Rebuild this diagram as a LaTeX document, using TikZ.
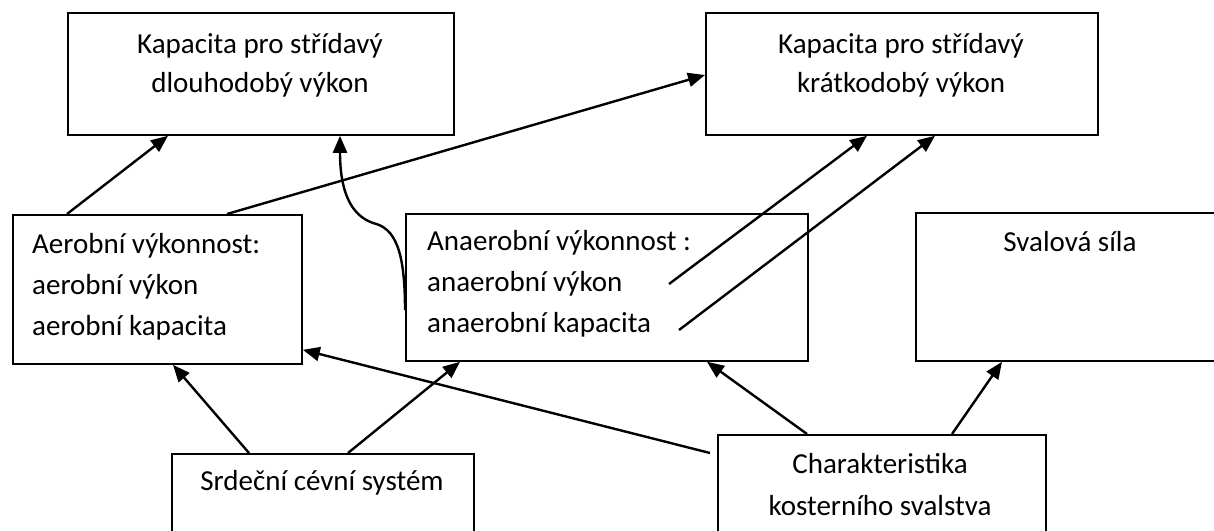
\documentclass[tikz,border=0pt]{standalone}
\usepackage{fontspec}
\setmainfont{Carlito}
\usetikzlibrary{calc,arrows.meta}
\begin{document}
\begin{tikzpicture}[x=1pt,y=-1pt,
  box/.style={draw=black,line width=1.8pt,rectangle,inner sep=0pt,anchor=north west},
  txt/.style={inner sep=0pt,font=\fontsize{29}{41}\selectfont},
  conn/.style={line width=2.4pt,-{Triangle[length=17pt,width=14pt]}}]
\useasboundingbox (0,0) rectangle (1214,530);
\clip (0,0) rectangle (1214,530);
\fill[white] (0,0) rectangle (1214,530);
% boxes
\node[box,minimum width=386pt,minimum height=122pt] (A) at (67,12) {};
\node[box,minimum width=392pt,minimum height=122pt] (B) at (705,12) {};
\node[box,minimum width=289pt,minimum height=149pt] (C) at (12,214) {};
\node[box,minimum width=402pt,minimum height=147pt] (D) at (405,213) {};
\node[box,minimum width=330pt,minimum height=148pt] (E) at (915,212) {};
\node[box,minimum width=302pt,minimum height=120pt] (F) at (171,453) {};
\node[box,minimum width=328pt,minimum height=140pt] (G) at (717,434) {};
% texts
\node[txt,anchor=base] (a1) at (260,53) {Kapacita pro střídavý};
\node[txt,anchor=base] (a2) at (260,92) {dlouhodobý výkon};
\node[txt,anchor=base] (b1) at (901,53) {Kapacita pro střídavý};
\node[txt,anchor=base] (b2) at (901,92) {krátkodobý výkon};
\node[txt,anchor=base west] (c1) at (32,253) {Aerobní výkonnost:};
\node[txt,anchor=base west] (c2) at (32,294) {aerobní výkon};
\node[txt,anchor=base west] (c3) at (32,335) {aerobní kapacita};
\node[txt,anchor=base west] (d1) at (427,250) {Anaerobní výkonnost :};
\node[txt,anchor=base west] (d2) at (427,291) {anaerobní výkon};
\node[txt,anchor=base west] (d3) at (427,332) {anaerobní kapacita};
\node[txt,anchor=base] (e1) at (1070,251) {Svalová síla};
\node[txt,anchor=base] (f1) at (322,490) {Srdeční cévní systém};
\node[txt,anchor=base] (g1) at (880,473) {Charakteristika};
\node[txt,anchor=base] (g2) at (880,515) {kosterního svalstva};
% free ends
\coordinate (s1) at (669,284);
\coordinate (s2) at (679,330);
\coordinate (dk) at (373,223);
\coordinate (gs) at (710,453);
% connectors
\draw[conn] ($(C.north west)+(55,0)$) -- ($(A.south west)+(101,0)$);
\draw[conn] ($(C.north west)+(215,0)$) -- ($(B.north west)+(0,63)$);
\draw[conn] ($(D.north west)+(0,97)$) .. controls (405,250) and (395,228) .. (dk)
   .. controls (350,215) and (340,190) .. ($(A.south west)+(273,0)$);
\draw[conn] (s1) -- ($(B.south west)+(162,0)$);
\draw[conn] (s2) -- ($(B.south west)+(230,0)$);
\draw[conn] ($(F.north west)+(78,0)$) -- ($(C.south west)+(161,0)$);
\draw[conn] ($(F.north west)+(177,0)$) -- ($(D.south west)+(55,0)$);
\draw[conn] (gs) -- ($(C.south east)+(0,-15)$);
\draw[conn] ($(G.north west)+(90,0)$) -- ($(D.south west)+(302,0)$);
\draw[conn] ($(G.north west)+(235,0)$) -- ($(E.south west)+(87,0)$);
\end{tikzpicture}
\end{document}
